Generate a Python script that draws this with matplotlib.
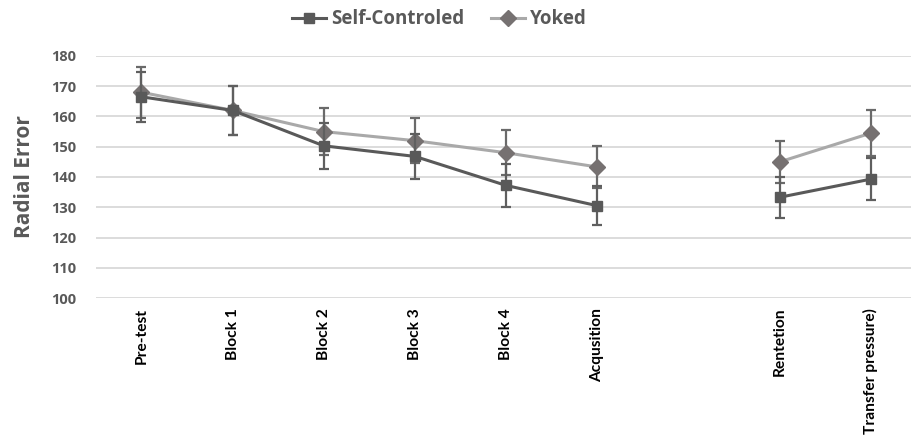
import numpy as np
import matplotlib.pyplot as plt

categories = ['Pre-test', 'Block 1', 'Block 2', 'Block 3', 'Block 4', 'Acqusition', '',
              'Rentetion', 'Transfer pressure)']
self_controled = [166.5, 162.0, 150.3, 146.8, 137.2, 130.5, np.nan, 133.3, 139.3]
self_err = [8.3, 8.0, 7.5, 7.5, 7.0, 6.5, np.nan, 6.8, 7.0]
yoked = [168.0, 162.0, 155.0, 152.0, 148.0, 143.3, np.nan, 145.0, 154.5]
yoked_err = [8.5, 8.0, 7.7, 7.5, 7.5, 6.8, np.nan, 7.0, 7.5]

x = np.arange(len(categories))

fig = plt.figure(figsize=(9.12, 4.37), dpi=100)
ax = fig.add_axes([0.105, 0.318, 0.895, 0.554])

ax.errorbar(x, self_controled, yerr=self_err, color='#595959', lw=2.2,
            marker='s', ms=7, mfc='#595959', mec='#595959',
            ecolor='#5f5f5f', elinewidth=1.6, capsize=3.5, capthick=1.6,
            label='Self-Controled', zorder=3)
ax.errorbar(x, yoked, yerr=yoked_err, color='#a9a9a9', lw=2.2,
            marker='D', ms=8, mfc='#767171', mec='#767171',
            ecolor='#6a6a6a', elinewidth=1.6, capsize=3.5, capthick=1.6,
            label='Yoked', zorder=2)

ax.set_ylim(100, 180)
ax.set_yticks(range(100, 181, 10))
ax.set_xlim(-0.5, 8.45)
ax.set_xticks(x)
ax.set_xticklabels(categories, rotation=90, fontsize=11.2, fontweight='bold',
                   family='Lato', va='top')
for lbl in ax.get_yticklabels():
    lbl.set_fontsize(10.5)
    lbl.set_fontweight('bold')
    lbl.set_color('#595959')
    lbl.set_family('Open Sans')

ax.grid(axis='y', color='#d9d9d9', lw=1.3)
ax.set_axisbelow(True)
for s in ax.spines.values():
    s.set_visible(False)
ax.tick_params(axis='both', length=0)
ax.tick_params(axis='x', pad=7)
ax.tick_params(axis='y', pad=14)

ax.set_ylabel('Radial Error', fontsize=15, fontweight='bold', color='#595959',
              family='Open Sans', labelpad=12)

handles, labels = ax.get_legend_handles_labels()
handles = [h[0] for h in handles]
leg = fig.legend(handles, labels, loc='upper center', bbox_to_anchor=(0.482, 1.017),
                 ncol=2, frameon=False, handlelength=1.8, handletextpad=0.3,
                 columnspacing=1.4,
                 prop={'family': 'Open Sans', 'weight': 'bold', 'size': 13.5})
for t in leg.get_texts():
    t.set_color('#595959')

fig.savefig('out.png', dpi=100)
